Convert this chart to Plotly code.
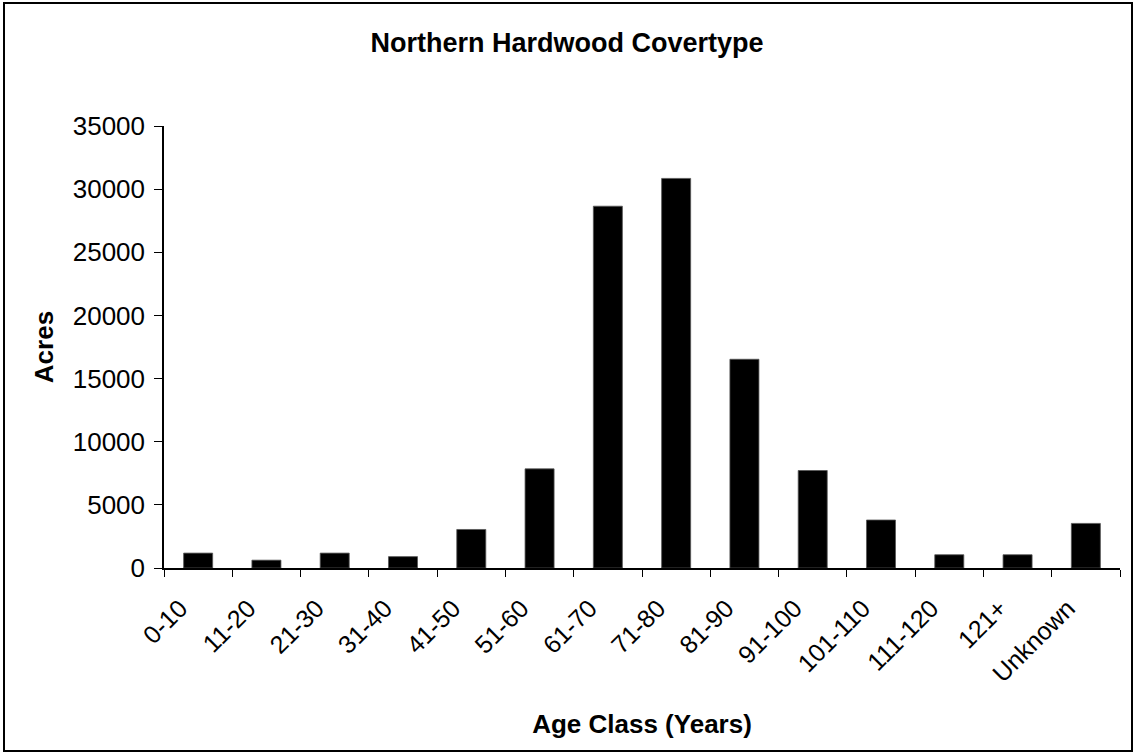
import plotly.graph_objects as go

categories = ["0-10", "11-20", "21-30", "31-40", "41-50", "51-60", "61-70",
              "71-80", "81-90", "91-100", "101-110", "111-120", "121+", "Unknown"]
acres = [1180, 620, 1180, 900, 3050, 7850, 28650, 30850, 16530, 7720, 3800, 1050, 1050, 3530]
y_ticks = [0, 5000, 10000, 15000, 20000, 25000, 30000, 35000]
y_tick_labels = ["0", "5000", "10000", "15000", "20000", "25000", "30000", "35000"]

W, H = 1134, 753
L, R, T, B = 164, 14, 126, 185

FONT = "Arial, Liberation Sans, sans-serif"

fig = go.Figure(go.Bar(
    x=categories, y=acres,
    marker=dict(color="black", line=dict(color="#555555", width=0.8)),
))

pw = W - L - R
ph = H - T - B
def px_x(x):
    return (x - L) / pw
def px_y(y):
    return (H - B - y) / ph

fig.update_layout(
    width=W, height=H,
    margin=dict(l=L, r=R, t=T, b=B, autoexpand=False),
    paper_bgcolor="white", plot_bgcolor="white",
    bargap=0.575,
    showlegend=False,
    font=dict(family=FONT, color="black", size=26),
    title=dict(text="<b>Northern Hardwood Covertype</b>", x=0.5, xref="container",
               y=1 - 43 / H, yanchor="middle", xanchor="center",
               font=dict(family=FONT, size=27, color="black")),
    xaxis=dict(
        type="category", tickangle=-45, showline=True, linecolor="black", linewidth=1.5,
        ticks="outside", ticklen=7, tickcolor="black", tickwidth=1.3,
        tickson="boundaries", showgrid=False, zeroline=False,
        ticklabelstandoff=14, ticklabelshift=-18,
        tickfont=dict(family=FONT, size=25, color="black"),
        title=dict(text="<b>Age Class (Years)</b>", standoff=28,
                   font=dict(family=FONT, size=26, color="black")),
        automargin=False,
    ),
    yaxis=dict(
        range=[0, 35000], tickvals=y_ticks, ticktext=y_tick_labels,
        showline=True, linecolor="black", linewidth=1.5,
        ticks="outside", ticklen=8, tickcolor="black", tickwidth=1.3,
        showgrid=False, zeroline=False, ticklabelstandoff=4,
        tickfont=dict(family=FONT, size=26, color="black"),
        title=dict(text="<b>Acres</b>", standoff=12,
                   font=dict(family=FONT, size=26, color="black")),
        automargin=False,
    ),
    shapes=[dict(type="rect", xref="paper", yref="paper",
                 x0=px_x(4), x1=px_x(1132), y0=px_y(751), y1=px_y(3),
                 line=dict(color="black", width=2), fillcolor="rgba(0,0,0,0)", layer="below")],
)

fig.write_html("out.html", config={"displayModeBar": False},
               post_script="document.body.style.margin='0';document.body.style.overflow='hidden';")
